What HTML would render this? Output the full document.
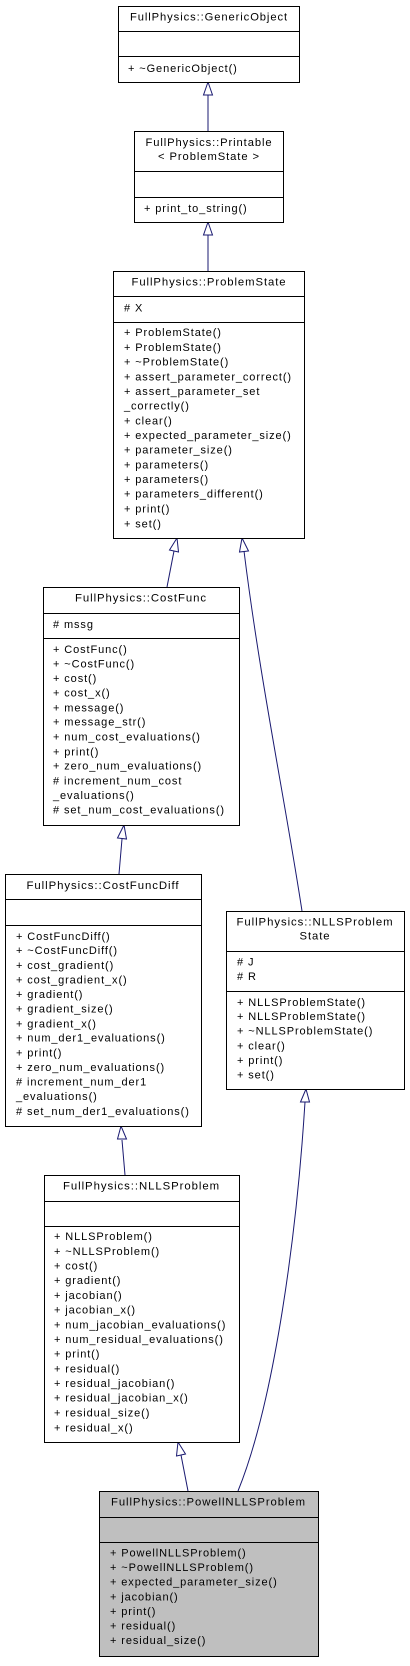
<!DOCTYPE html>
<html><head><meta charset="utf-8"><style>
html,body{margin:0;padding:0;background:#fff;}
svg text{font-family:"Liberation Sans",sans-serif;font-size:11px;fill:#000;letter-spacing:0.9px;}
</style></head><body>
<svg width="410" height="1661" viewBox="0 0 410 1661" xmlns="http://www.w3.org/2000/svg">
<rect width="410" height="1661" fill="#fff"/>
<g fill="none" stroke="#191970" stroke-width="1">
<path d="M208,131 L208,95"/><polygon points="208,82 203.5,95 212.5,95" fill="#fff"/>
<path d="M208,271 L208,235"/><polygon points="208,222 203.5,235 212.5,235" fill="#fff"/>
<path d="M167,587 L174,551"/><polygon points="177,538 169.5,550 178.5,552" fill="#fff"/>
<path d="M302,911 C285,800 260,680 244,551"/><polygon points="242,538 239.5,552 248.5,551" fill="#fff"/>
<path d="M119,874 L122,839"/><polygon points="124,825 117.5,838 126.5,839" fill="#fff"/>
<path d="M125,1175 L122,1140"/><polygon points="121,1126 117.5,1139 126.5,1139" fill="#fff"/>
<path d="M188,1491 L181,1455"/><polygon points="178,1442 176.5,1456 185.5,1454" fill="#fff"/>
<path d="M238,1491 C275,1400 297,1230 305,1102"/><polygon points="306,1089 300.5,1102 309.5,1102" fill="#fff"/>
</g>
<g stroke="#000" stroke-width="1" fill="#fff">
<rect x="118.5" y="6.5" width="181" height="76"/>
<line x1="118.5" y1="31.5" x2="299.5" y2="31.5"/><line x1="118.5" y1="56.5" x2="299.5" y2="56.5"/>
<rect x="134.5" y="131.5" width="149" height="91"/>
<line x1="134.5" y1="171.5" x2="283.5" y2="171.5"/><line x1="134.5" y1="197.5" x2="283.5" y2="197.5"/>
<rect x="113.5" y="271.5" width="191" height="267"/>
<line x1="113.5" y1="296.5" x2="304.5" y2="296.5"/><line x1="113.5" y1="322.5" x2="304.5" y2="322.5"/>
<rect x="43.5" y="587.5" width="196" height="238"/>
<line x1="43.5" y1="613.5" x2="239.5" y2="613.5"/><line x1="43.5" y1="638.5" x2="239.5" y2="638.5"/>
<rect x="5.5" y="874.5" width="196" height="252"/>
<line x1="5.5" y1="899.5" x2="201.5" y2="899.5"/><line x1="5.5" y1="925.5" x2="201.5" y2="925.5"/>
<rect x="226.5" y="911.5" width="178" height="178"/>
<line x1="226.5" y1="951.5" x2="404.5" y2="951.5"/><line x1="226.5" y1="991.5" x2="404.5" y2="991.5"/>
<rect x="44.5" y="1175.5" width="195" height="267"/>
<line x1="44.5" y1="1201.5" x2="239.5" y2="1201.5"/><line x1="44.5" y1="1226.5" x2="239.5" y2="1226.5"/>
<rect x="99.5" y="1491.5" width="219" height="165" fill="#bfbfbf"/>
<line x1="99.5" y1="1517.5" x2="318.5" y2="1517.5"/><line x1="99.5" y1="1542.5" x2="318.5" y2="1542.5"/>
</g>
<g dominant-baseline="central">
<text x="209" y="17.5" text-anchor="middle" textLength="158" lengthAdjust="spacingAndGlyphs">FullPhysics::GenericObject</text>
<text x="128" y="69">+ ~GenericObject()</text>
<text x="209" y="143" text-anchor="middle" textLength="127" lengthAdjust="spacingAndGlyphs">FullPhysics::Printable</text>
<text x="209" y="157" text-anchor="middle" textLength="102" lengthAdjust="spacingAndGlyphs">&lt; ProblemState &gt;</text>
<text x="144" y="209">+ print_to_string()</text>
<text x="209" y="282.5" text-anchor="middle" textLength="155" lengthAdjust="spacingAndGlyphs">FullPhysics::ProblemState</text>
<text x="124" y="308.5"># X</text>
<text x="124" y="333">+ ProblemState()</text>
<text x="124" y="348">+ ProblemState()</text>
<text x="124" y="362.5">+ ~ProblemState()</text>
<text x="124" y="377.5">+ assert_parameter_correct()</text>
<text x="124" y="392">+ assert_parameter_set</text>
<text x="124" y="406.5">_correctly()</text>
<text x="124" y="421.5">+ clear()</text>
<text x="124" y="436">+ expected_parameter_size()</text>
<text x="124" y="450.5">+ parameter_size()</text>
<text x="124" y="465.5">+ parameters()</text>
<text x="124" y="480">+ parameters()</text>
<text x="124" y="494.5">+ parameters_different()</text>
<text x="124" y="509.5">+ print()</text>
<text x="124" y="524.5">+ set()</text>
<text x="141" y="598.5" text-anchor="middle" textLength="132" lengthAdjust="spacingAndGlyphs">FullPhysics::CostFunc</text>
<text x="53" y="625"># mssg</text>
<text x="53" y="650">+ CostFunc()</text>
<text x="53" y="664.5">+ ~CostFunc()</text>
<text x="53" y="679">+ cost()</text>
<text x="53" y="693.5">+ cost_x()</text>
<text x="53" y="708.5">+ message()</text>
<text x="53" y="722.5">+ message_str()</text>
<text x="53" y="737.5">+ num_cost_evaluations()</text>
<text x="53" y="752.5">+ print()</text>
<text x="53" y="766.5">+ zero_num_evaluations()</text>
<text x="53" y="781.5"># increment_num_cost</text>
<text x="53" y="796">_evaluations()</text>
<text x="53" y="810.5"># set_num_cost_evaluations()</text>
<text x="103" y="886" text-anchor="middle" textLength="153" lengthAdjust="spacingAndGlyphs">FullPhysics::CostFuncDiff</text>
<text x="16" y="937">+ CostFuncDiff()</text>
<text x="16" y="951">+ ~CostFuncDiff()</text>
<text x="16" y="966">+ cost_gradient()</text>
<text x="16" y="980.5">+ cost_gradient_x()</text>
<text x="16" y="995">+ gradient()</text>
<text x="16" y="1009.5">+ gradient_size()</text>
<text x="16" y="1024.5">+ gradient_x()</text>
<text x="16" y="1038.5">+ num_der1_evaluations()</text>
<text x="16" y="1053.5">+ print()</text>
<text x="16" y="1068">+ zero_num_evaluations()</text>
<text x="16" y="1082.5"># increment_num_der1</text>
<text x="16" y="1097">_evaluations()</text>
<text x="16" y="1112"># set_num_der1_evaluations()</text>
<text x="315" y="922.5" text-anchor="middle" textLength="157" lengthAdjust="spacingAndGlyphs">FullPhysics::NLLSProblem</text>
<text x="315" y="936.5" text-anchor="middle" textLength="31" lengthAdjust="spacingAndGlyphs">State</text>
<text x="237" y="962.5"># J</text>
<text x="237" y="977"># R</text>
<text x="237" y="1003">+ NLLSProblemState()</text>
<text x="237" y="1017">+ NLLSProblemState()</text>
<text x="237" y="1031.5">+ ~NLLSProblemState()</text>
<text x="237" y="1046.5">+ clear()</text>
<text x="237" y="1061">+ print()</text>
<text x="237" y="1075.5">+ set()</text>
<text x="141.5" y="1186.5" text-anchor="middle" textLength="157" lengthAdjust="spacingAndGlyphs">FullPhysics::NLLSProblem</text>
<text x="54" y="1237">+ NLLSProblem()</text>
<text x="54" y="1252">+ ~NLLSProblem()</text>
<text x="54" y="1266.5">+ cost()</text>
<text x="54" y="1281">+ gradient()</text>
<text x="54" y="1296">+ jacobian()</text>
<text x="54" y="1310.5">+ jacobian_x()</text>
<text x="54" y="1325.5">+ num_jacobian_evaluations()</text>
<text x="54" y="1340">+ num_residual_evaluations()</text>
<text x="54" y="1354.5">+ print()</text>
<text x="54" y="1369.5">+ residual()</text>
<text x="54" y="1384">+ residual_jacobian()</text>
<text x="54" y="1398.5">+ residual_jacobian_x()</text>
<text x="54" y="1413.5">+ residual_size()</text>
<text x="54" y="1428.5">+ residual_x()</text>
<text x="208.5" y="1502.5" text-anchor="middle" textLength="195" lengthAdjust="spacingAndGlyphs">FullPhysics::PowellNLLSProblem</text>
<text x="110" y="1553.5">+ PowellNLLSProblem()</text>
<text x="110" y="1568">+ ~PowellNLLSProblem()</text>
<text x="110" y="1582.5">+ expected_parameter_size()</text>
<text x="110" y="1597.5">+ jacobian()</text>
<text x="110" y="1612">+ print()</text>
<text x="110" y="1626.5">+ residual()</text>
<text x="110" y="1641">+ residual_size()</text>
</g>
</svg>
</body></html>
